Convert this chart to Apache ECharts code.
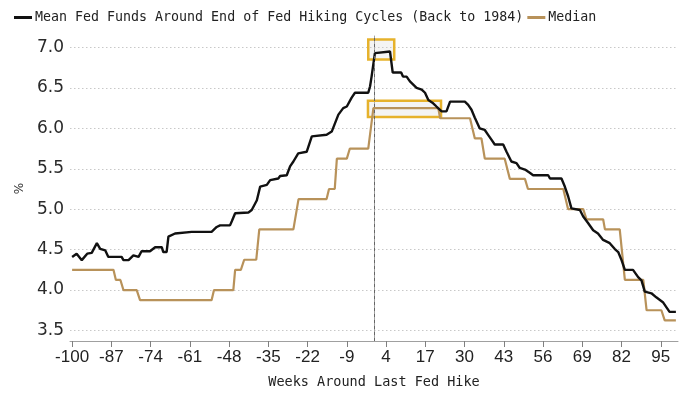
<!DOCTYPE html>
<html>
<head>
<meta charset="utf-8">
<script src="https://cdn.jsdelivr.net/npm/echarts@6/dist/echarts.min.js"></script>
<style>html,body{margin:0;padding:0;background:#fff;}#c{width:700px;height:394px;}</style>
</head>
<body>
<div id="c"></div>
<script>
const xTicks = [-100,-87,-74,-61,-48,-35,-22,-9,4,17,30,43,56,69,82,95];
const yTicks = [3.5,4.0,4.5,5.0,5.5,6.0,6.5,7.0];

const meanWeeks = [-100,-98.5,-96.8,-95,-93.5,-91.8,-90.7,-89,-88,-83.6,-83,-81.3,-79.7,-78,-77,-74.2,-72.5,-70.3,-69.8,-68.7,-68.1,-65.9,-65.3,-60.4,-59.8,-58.7,-53.8,-53.2,-52.1,-51,-47.7,-47.1,-46,-41.6,-40.5,-38.8,-37.7,-35.5,-34.4,-31.7,-31.1,-28.9,-27.8,-26.7,-25.1,-22.3,-20.6,-15.7,-14,-13.5,-11.8,-10.2,-9,-7.4,-6.3,-1.9,-1.3,-0.8,0.3,5.3,6.2,9.0,9.6,10.8,11.9,13,14.1,15.8,16.9,18,19.6,20.7,22.4,24,25.2,30.1,31.2,32.3,33.4,35,36.7,37.8,38.9,40,42.8,43.9,45.5,47.2,48.3,50,51.6,52.7,57.7,58.3,62.1,63.2,64.3,65.4,68.2,69.3,70.9,72.6,74.2,75.9,78.1,79.7,80.9,82,83.1,85.8,87.5,88.6,89.7,91.9,93.5,95.7,97.9,100];
const meanValues = [4.41,4.45,4.37,4.45,4.46,4.58,4.51,4.49,4.41,4.41,4.37,4.37,4.43,4.41,4.48,4.48,4.53,4.53,4.47,4.47,4.66,4.70,4.72,4.72,4.74,4.72,4.72,4.70,4.78,4.80,4.80,4.85,4.95,4.96,4.99,5.11,5.28,5.30,5.36,5.38,5.41,5.42,5.53,5.59,5.69,5.71,5.90,5.92,5.96,5.98,6.17,6.25,6.27,6.38,6.44,6.44,6.52,6.64,6.93,6.95,6.69,6.69,6.64,6.64,6.58,6.54,6.50,6.48,6.44,6.35,6.31,6.27,6.21,6.21,6.33,6.33,6.29,6.23,6.13,6.00,5.98,5.92,5.86,5.80,5.80,5.71,5.59,5.57,5.51,5.49,5.45,5.42,5.42,5.38,5.38,5.28,5.16,5.01,4.99,4.91,4.83,4.74,4.70,4.62,4.58,4.51,4.47,4.37,4.25,4.25,4.16,4.12,3.98,3.96,3.91,3.85,3.73,3.73];

const medianWeeks = [-100,-86.3,-85.5,-84,-83,-78.6,-77.5,-53.8,-53,-46.6,-46,-44.1,-43,-39,-38,-26.7,-25,-15.7,-14.9,-13,-12.3,-9,-8,-1.9,-0.2,21.3,21.9,31.8,33.4,35.6,36.7,43.3,45,50,51,62.7,64.3,69.3,70.4,75.9,76.5,81.4,83.1,89.2,90.3,95.2,96.3,100];
const medianValues = [4.25,4.25,4.125,4.125,4.0,4.0,3.875,3.875,4.0,4.0,4.25,4.25,4.375,4.375,4.75,4.75,5.125,5.125,5.25,5.25,5.625,5.625,5.75,5.75,6.25,6.25,6.125,6.125,5.875,5.875,5.625,5.625,5.375,5.375,5.25,5.25,5.0,5.0,4.875,4.875,4.75,4.75,4.125,4.125,3.75,3.75,3.625,3.625];

// highlight boxes: [weekFrom, valueTop, weekTo, valueBottom]
const meanBox = [-1.9, 7.10, 6.7, 6.85];
const medianBox = [-2.0, 6.34, 22.2, 6.14];

const meanData = meanWeeks.map((w,i)=>[w, meanValues[i]]);
const medianData = medianWeeks.map((w,i)=>[w, medianValues[i]]);

const boxStyle = {color:'rgba(205,205,205,0.22)', borderColor:'#E6B22C', borderWidth:2.5, borderRadius:2};
function box(b){ return [{coord:[b[0],b[1]], itemStyle:boxStyle},{coord:[b[2],b[3]]}]; }

const chart = echarts.init(document.getElementById('c'), null, {renderer:'canvas'});
chart.setOption({
  animation:false,
  backgroundColor:'#fff',
  legend:{
    left:14, top:11, padding:0, itemGap:4, itemWidth:18, itemHeight:3, icon:'rect',
    textStyle:{fontFamily:'DejaVu Sans Mono', fontSize:13.3, color:'#222', padding:[0,0,0,-2]},
    data:['Mean Fed Funds Around End of Fed Hiking Cycles (Back to 1984)','Median']
  },
  grid:{left:70, right:22, top:36, bottom:53, outerBoundsMode:'none', containLabel:false},
  xAxis:{
    type:'value', min:-100.7, max:100.7,
    name:'Weeks Around Last Fed Hike', nameLocation:'middle', nameGap:34,
    nameTextStyle:{fontFamily:'DejaVu Sans Mono', fontSize:13.5, color:'#222'},
    axisLine:{show:true, onZero:false, lineStyle:{color:'#a0a0a0', width:1}},
    axisTick:{show:true, inside:false, length:6, customValues:xTicks, lineStyle:{color:'#808080', width:1}},
    axisLabel:{customValues:xTicks, fontFamily:'Liberation Sans', fontSize:17, color:'#222', margin:8},
    splitLine:{show:false}
  },
  yAxis:{
    type:'value', min:3.37, max:7.142,
    name:'%', nameLocation:'middle', nameGap:39, nameRotate:90,
    nameTextStyle:{fontFamily:'DejaVu Sans', fontSize:12, color:'#333'},
    axisLine:{show:true, lineStyle:{color:'#a0a0a0', width:1}},
    axisTick:{show:false, customValues:yTicks},
    axisLabel:{customValues:yTicks, fontFamily:'DejaVu Sans', fontSize:17, color:'#2a2a2a', margin:6,
      formatter:v=>v.toFixed(1)},
    splitLine:{show:true, lineStyle:{color:'#c8c8c8', type:[1.5,2.5], width:1}}
  },
  series:[
    {
      name:'Mean Fed Funds Around End of Fed Hiking Cycles (Back to 1984)',
      type:'line', data:meanData, showSymbol:false, z:4,
      lineStyle:{color:'#111', width:2.4}, itemStyle:{color:'#111'},
      markLine:{silent:true, symbol:'none', label:{show:false},
        lineStyle:{color:'#666', type:[3,3], width:1},
        data:[{xAxis:0}]},
      markArea:{silent:true, data:[box(meanBox)]}
    },
    {
      name:'Median',
      type:'line', data:medianData, showSymbol:false, z:3,
      lineStyle:{color:'#B8925A', width:2.2}, itemStyle:{color:'#B8925A'},
      markArea:{silent:true, data:[box(medianBox)]}
    }
  ]
});
</script>
</body>
</html>
